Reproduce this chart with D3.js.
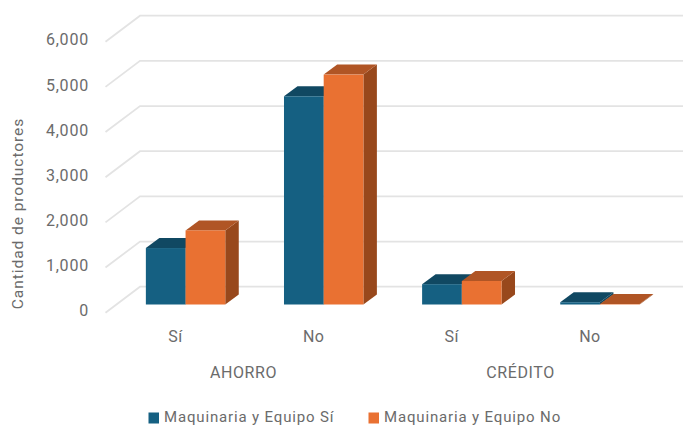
<!DOCTYPE html>
<html>
<head>
<meta charset="utf-8">
<script src="https://cdn.jsdelivr.net/npm/d3@7"></script>
<style>
html, body { margin: 0; padding: 0; background: #fff; }
svg { display: block; }
text { font-family: Roboto, sans-serif; fill: #6b6b6b; }
</style>
</head>
<body>
<div id="chart"></div>
<script>
// Producers by savings / credit access and machinery ownership
const groups = ["AHORRO", "CRÉDITO"];
const categories = ["Sí", "No", "Sí", "No"];
const seriesNames = ["Maquinaria y Equipo Sí", "Maquinaria y Equipo No"];
const maquinariaSi = [1250, 4610, 450, 50];
const maquinariaNo = [1640, 5090, 520, 10];
const yTicks = [0, 1000, 2000, 3000, 4000, 5000, 6000];

const front = ["#156082", "#E97132"];
const top_ = ["#104862", "#B05525"];
const side = ["#0F4861", "#98481C"];

const width = 683, height = 425;
const svg = d3.select("#chart").append("svg")
  .attr("width", width).attr("height", height);

// Back wall scale; the wall and bars are offset from it to suggest depth
const yBack = d3.scaleLinear().domain([0, 6000]).range([286.7, 15.7]);
const wallDx = -34.5, wallDy = 26;
const barDy = 17.8, depthX = 13.5, depthY = 10;
const y = v => yBack(v) + barDy;

const x0 = d3.scaleBand().domain(d3.range(categories.length))
  .range([116.5, 669]).paddingInner(0).paddingOuter(0);
const barW = 39.7;
const barX = (i, s) => x0(i) + (x0.bandwidth() - 2 * barW) / 2 + s * barW;

// Gridlines along the back wall and the side wall
const grid = svg.append("g").attr("stroke", "#e3e3e3").attr("stroke-width", 1.8).attr("fill", "none");
yTicks.forEach(t => {
  grid.append("path").attr("d",
    `M${140 + wallDx},${yBack(t) + wallDy}L140,${yBack(t)}L683,${yBack(t)}`);
});

// Value axis labels
svg.append("g").selectAll("text").data(yTicks).join("text")
  .attr("x", 89).attr("y", d => yBack(d) + 29.7)
  .attr("text-anchor", "end").attr("font-size", 16)
  .attr("letter-spacing", 0.8)
  .text(d3.format(",d"));

svg.append("text")
  .attr("transform", "translate(22.5,213.5) rotate(-90)")
  .attr("text-anchor", "middle").attr("font-size", 15.5).attr("letter-spacing", 0.95)
  .text("Cantidad de productores");

// Extruded bars: side, top, then front face of each box
const seriesValues = [maquinariaSi, maquinariaNo];
categories.forEach((c, i) => {
  seriesValues.forEach((vals, s) => {
    const v = vals[i], xl = barX(i, s), xr = xl + barW, yt = y(v), yb = y(0);
    const g = svg.append("g");
    g.append("path").attr("fill", side[s])
      .attr("d", `M${xr},${yt}L${xr + depthX},${yt - depthY}L${xr + depthX},${yb - depthY}L${xr},${yb}Z`);
    g.append("path").attr("fill", top_[s])
      .attr("d", `M${xl},${yt}L${xl + depthX},${yt - depthY}L${xr + depthX},${yt - depthY}L${xr},${yt}Z`);
    g.append("rect").attr("fill", front[s])
      .attr("x", xl).attr("y", yt).attr("width", barW).attr("height", yb - yt);
  });
});

// Category and group labels
svg.append("g").selectAll("text").data(categories).join("text")
  .attr("x", (d, i) => x0(i) + x0.bandwidth() / 2 - 10)
  .attr("y", 342).attr("text-anchor", "middle")
  .attr("font-size", 16).attr("letter-spacing", 0.5)
  .text(d => d);

svg.append("g").selectAll("text").data(groups).join("text")
  .attr("x", (d, i) => [243.5, 520.5][i])
  .attr("y", 377.5).attr("text-anchor", "middle")
  .attr("font-size", 16).attr("letter-spacing", 0.6)
  .text(d => d);

// Legend
const legendX = [148.5, 368.5];
const legend = svg.append("g").selectAll("g").data(seriesNames).join("g")
  .attr("transform", (d, i) => `translate(${legendX[i]},412.5)`);
legend.append("rect").attr("width", 10.5).attr("height", 11).attr("fill", (d, i) => front[i]);
legend.append("text").attr("x", 15.5).attr("y", 9)
  .attr("font-size", 15).attr("letter-spacing", 0.85)
  .text(d => d);
</script>
</body>
</html>
